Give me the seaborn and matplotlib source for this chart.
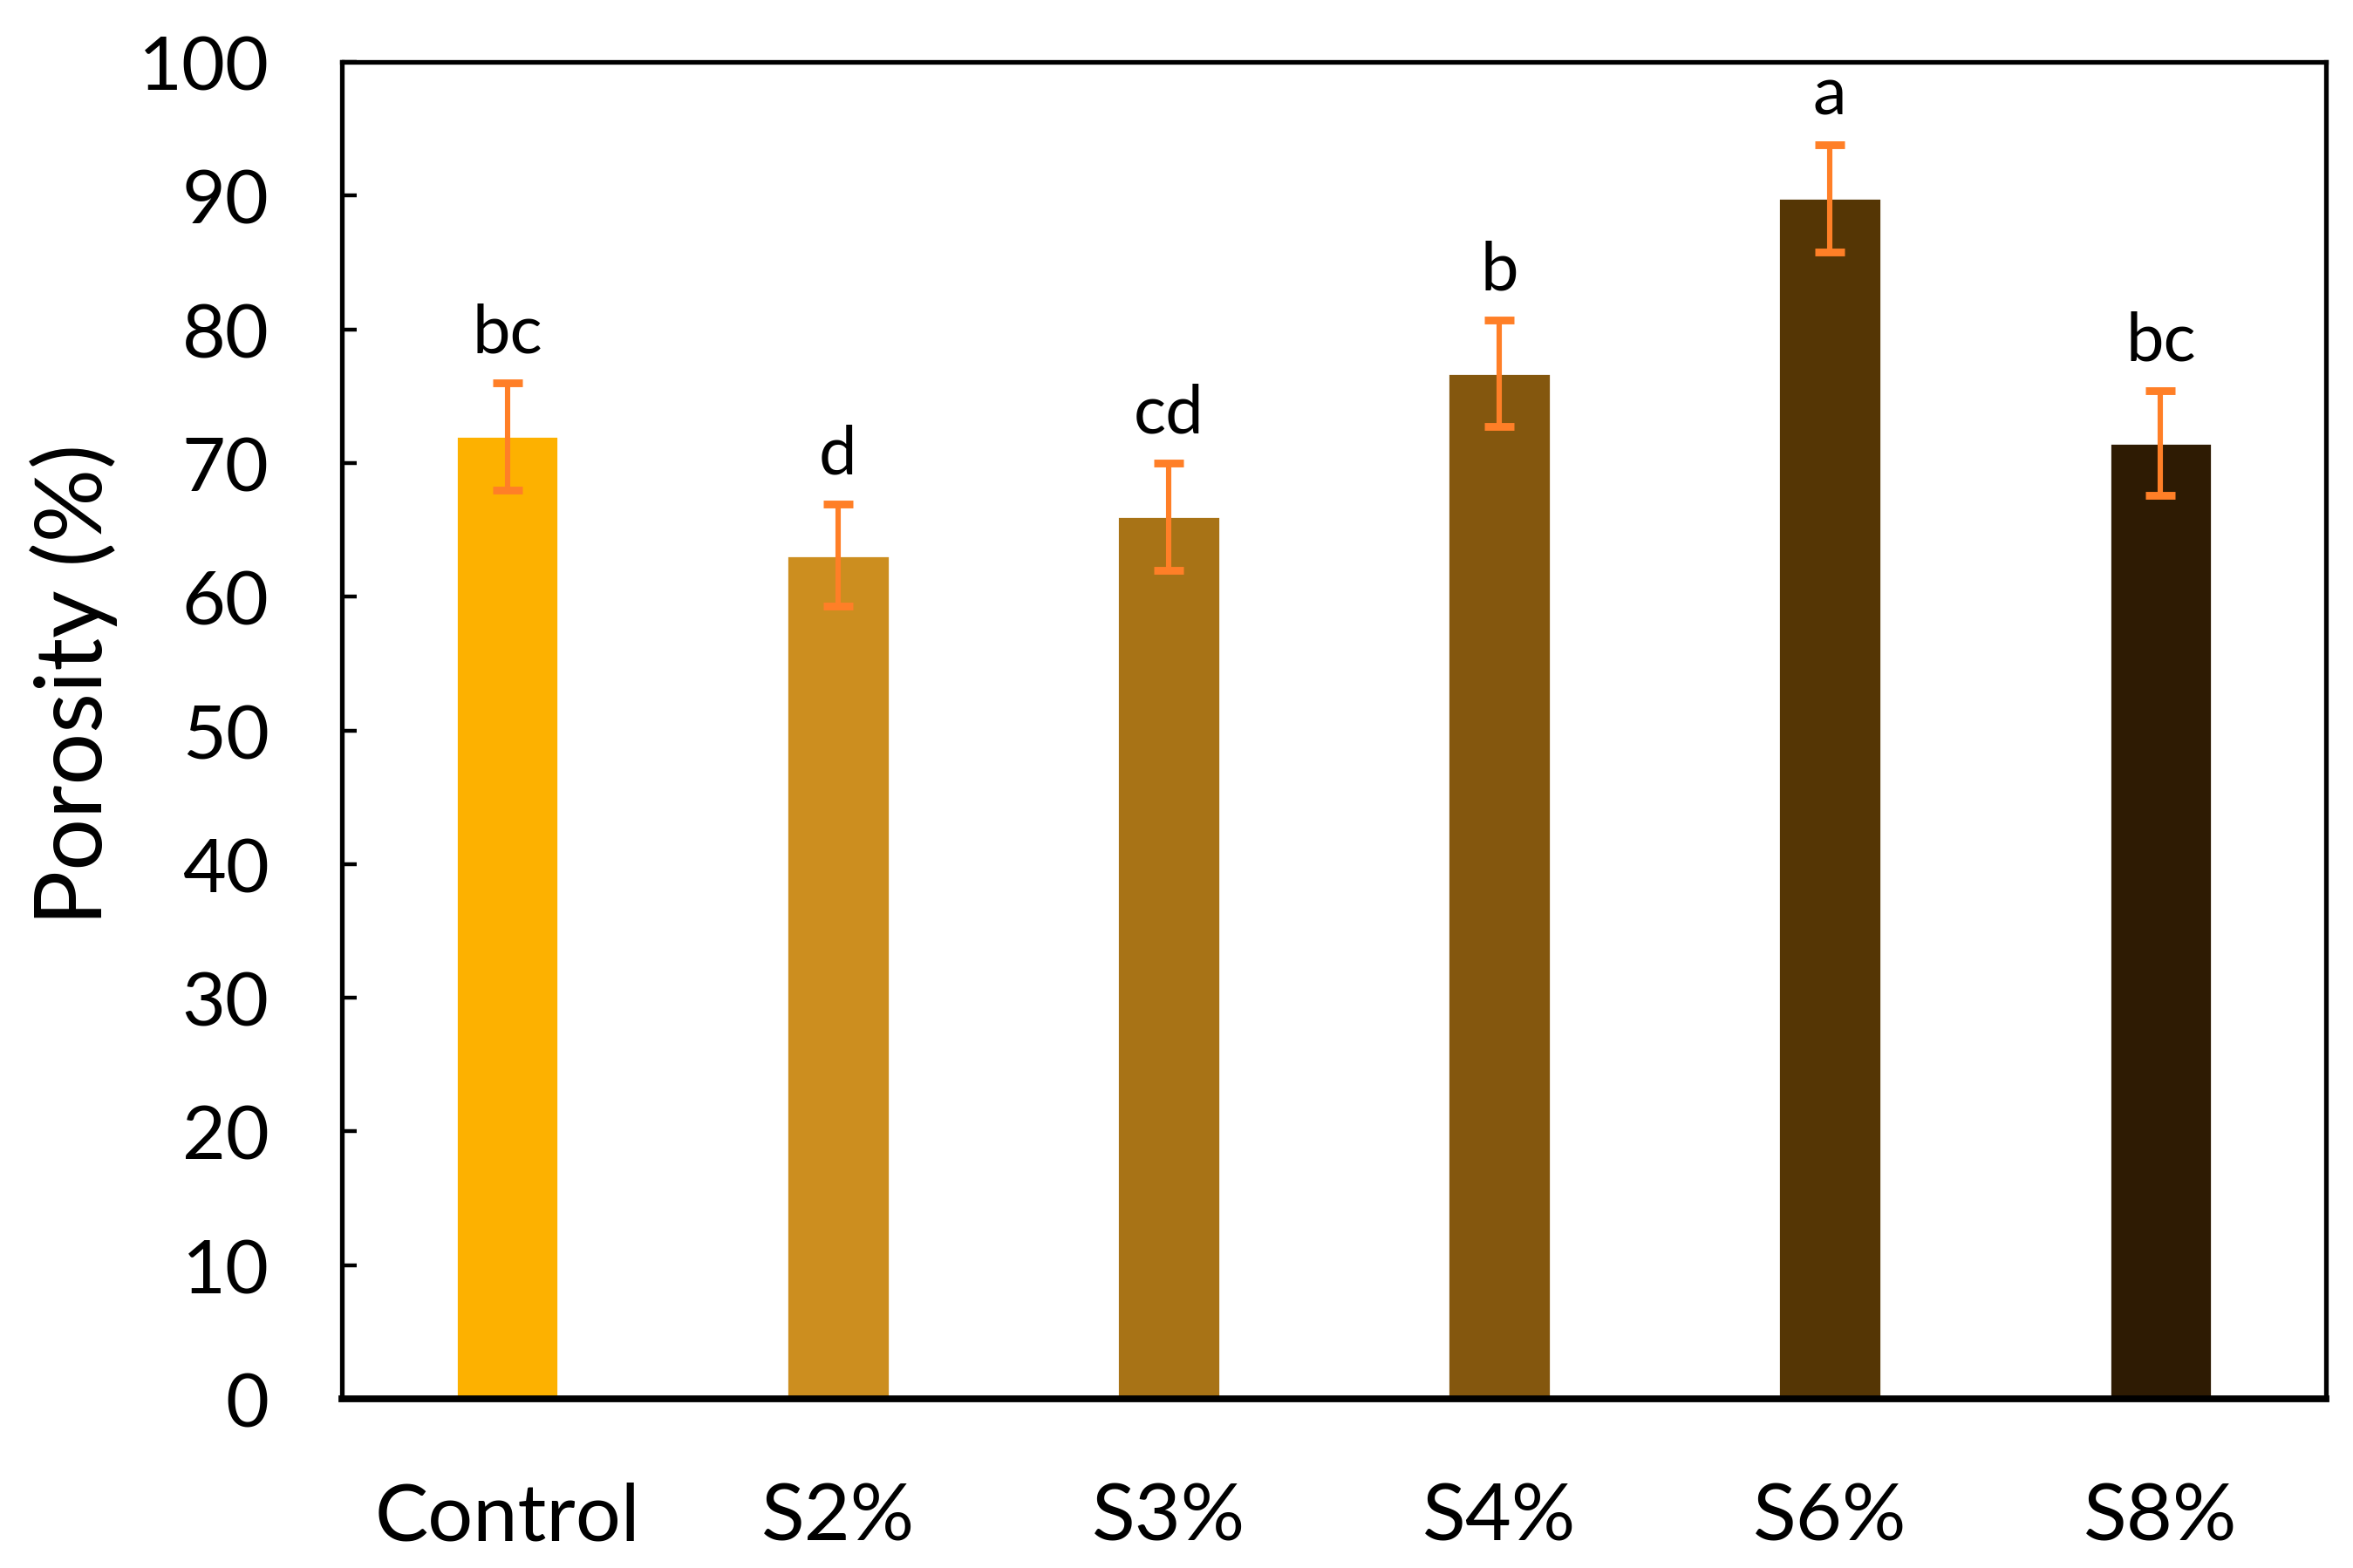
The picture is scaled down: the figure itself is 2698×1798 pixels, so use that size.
import numpy as np
import pandas as pd
import matplotlib

matplotlib.use("Agg")
import matplotlib.pyplot as plt
import seaborn as sns

categories = ["Control", "S2%", "S3%", "S4%", "S6%", "S8%"]
porosity = [72.0, 63.1, 66.0, 76.7, 89.8, 71.5]
errors = [4.0, 3.8, 4.0, 4.0, 4.0, 3.9]
letters = ["bc", "d", "cd", "b", "a", "bc"]
bar_colors = ["#FDB100", "#CC8E1F", "#A87316", "#84570E", "#553605", "#2E1B03"]
err_color = "#FF7F27"

sns.set_style("white")
plt.rcParams["font.family"] = ["Lato", "DejaVu Sans"]
plt.rcParams["text.color"] = "black"
plt.rcParams["axes.labelcolor"] = "black"
plt.rcParams["xtick.color"] = "black"
plt.rcParams["ytick.color"] = "black"

df = pd.DataFrame({"group": categories, "porosity": porosity})

fig = plt.figure(figsize=(13.49, 8.995), dpi=200)
ax = fig.add_axes([0.1453, 0.1078, 0.8432, 0.8522])

sns.barplot(
    data=df,
    x="group",
    y="porosity",
    hue="group",
    palette=bar_colors,
    order=categories,
    hue_order=categories,
    width=0.31,
    errorbar=None,
    legend=False,
    saturation=1,
    ax=ax,
)

x = np.arange(len(categories))
ax.errorbar(
    x,
    porosity,
    yerr=errors,
    fmt="none",
    ecolor=err_color,
    elinewidth=2.2,
    capsize=6,
    capthick=3.2,
    zorder=3,
)

for xi, val, err, lab in zip(x, porosity, errors, letters):
    ax.text(xi, val + err + 1.4, lab, ha="center", va="bottom", fontsize=28)

ax.set_xlim(-0.5, len(categories) - 0.5)
ax.set_ylim(0, 100)
ax.set_yticks(np.arange(0, 101, 10))
ax.set_xlabel("")
ax.set_ylabel("Porosity (%)", fontsize=38)
ax.yaxis.set_label_coords(-0.113, 0.535)

for side in ["left", "right", "top", "bottom"]:
    ax.spines[side].set_visible(True)
    ax.spines[side].set_color("black")
    ax.spines[side].set_linewidth(1.9)
ax.spines["bottom"].set_linewidth(2.8)

ax.tick_params(axis="y", direction="in", length=6, width=1.6, labelsize=31, pad=30, left=True)
ax.tick_params(axis="x", length=0, labelsize=33, pad=34)

plt.savefig("out.png", dpi=200)
plt.close()
